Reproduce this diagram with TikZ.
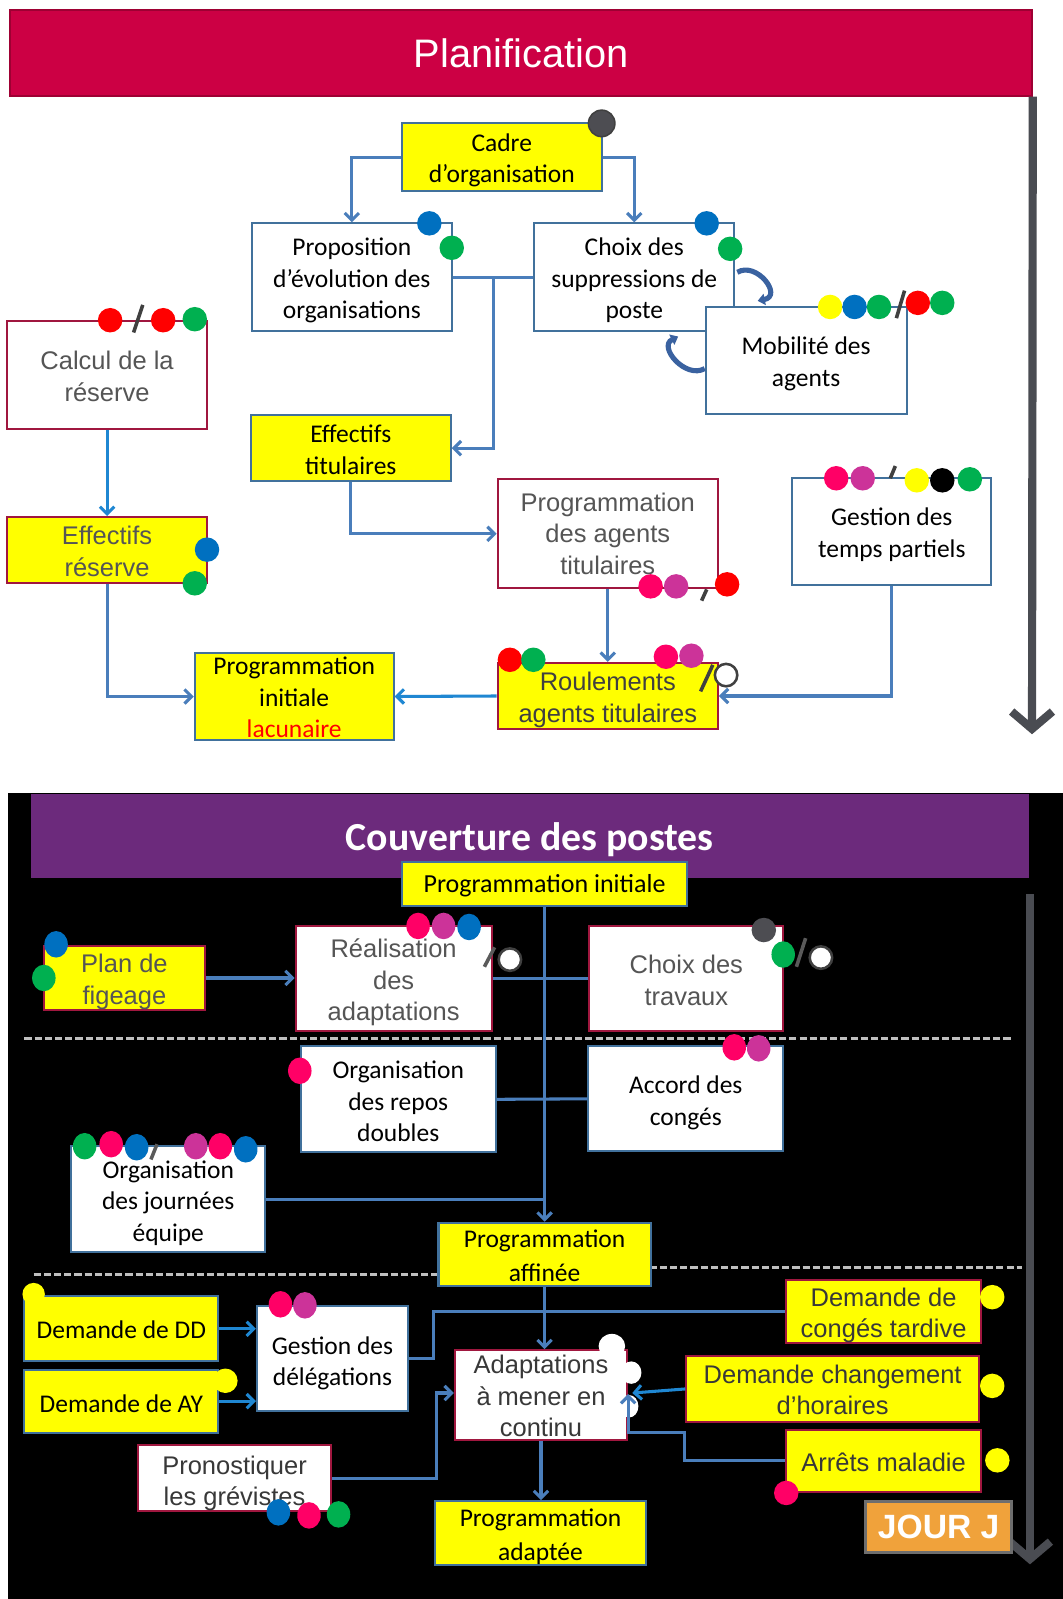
\documentclass[tikz,border=0pt]{standalone}
\usepackage{fontspec}
\setmainfont{Carlito}
\newfontfamily\arialf{Liberation Sans}
\usetikzlibrary{arrows.meta,calc}

\definecolor{hlyellow}{HTML}{FFFF00}
\definecolor{boxblue}{HTML}{41719C}
\definecolor{boxred}{HTML}{A0173F}
\definecolor{linkblue}{HTML}{4A7EBB}
\definecolor{brightblue}{HTML}{1F87D2}
\definecolor{curlblue}{HTML}{3A62A0}
\definecolor{greytxt}{HTML}{555555}
\definecolor{darktxt}{HTML}{383838}
\definecolor{bannerred}{HTML}{CC0044}
\definecolor{bannerredline}{HTML}{9E0033}
\definecolor{bannerpurple}{HTML}{6C2A7C}
\definecolor{timegrey}{HTML}{4A4C52}
\definecolor{dotred}{HTML}{FF0000}
\definecolor{dotgreen}{HTML}{00B050}
\definecolor{dotblue}{HTML}{0070C0}
\definecolor{dotyellow}{HTML}{FFFF00}
\definecolor{dotpink}{HTML}{FF0066}
\definecolor{dotmagenta}{HTML}{CC3399}
\definecolor{dotgrey}{HTML}{4D4D52}
\definecolor{jourorange}{HTML}{F0A23B}
\definecolor{jourgrey}{HTML}{6E6E6E}
\definecolor{dashgrey}{HTML}{BFBFBF}
\definecolor{slashgrey}{HTML}{404040}
\definecolor{slashdark}{HTML}{5A5A5A}

% round marker, oval marker, marker ring, slash between markers
\newcommand\rdot[4][12]{\fill[#2] (#3,#4) circle[radius=#1pt];}
\newcommand\ovdot[3]{\fill[#1] (#2,#3) ellipse[x radius=11.5pt,y radius=13pt];}
\newcommand\ringdot[3]{\filldraw[fill=white,draw=#1,line width=2.5pt] (#2,#3) circle[radius=11pt];}
\newcommand\slashat[5]{\draw[#1,line width=3.5pt] (#2,#3) -- (#4,#5);}

\begin{document}
\begin{tikzpicture}[x=1pt,y=-1pt,
  % invisible strut beside the text block: its height sets where the lines sit
  topstrut/.style={execute at begin node={\rule{0pt}{#1pt}}},
  nodebox/.style={draw, line width=2pt, inner sep=0pt, align=center,
    font=\fontsize{25}{31}\selectfont},
  yelbox/.style={nodebox, fill=hlyellow},
  whitebox/.style={nodebox, fill=white},
  bb/.style={draw=boxblue},
  rb/.style={draw=boxred},
  grey text/.style={font=\arialf\fontsize{25}{31}\selectfont, text=greytxt},
  wide lines/.style={font=\fontsize{25}{33}\selectfont},
  link/.style={draw=linkblue, line width=3pt},
  brightlink/.style={draw=brightblue, line width=3pt},
  arrowhd/.style={-{Straight Barb[length=7pt,width=14pt]}},
  curlarrow/.style={draw=curlblue, line width=5pt, -{Triangle[length=7pt,width=11pt]}},
  timeline/.style={draw=timegrey, line width=8pt, -{Straight Barb[length=17pt,width=40pt]}},
  dashsep/.style={draw=dashgrey, line width=3pt, dash pattern=on 7pt off 3pt},
]
\useasboundingbox (0,0) rectangle (1042,1568);
\fill[white] (0,0) rectangle (1042,1568);

% ---------------- Planification ----------------
\node[fill=bannerred, draw=bannerredline, line width=1.5pt, minimum width=1002pt,
  minimum height=84pt, inner sep=0pt, text=white,
  font=\arialf\fontsize{39}{44}\selectfont] (planban) at (511,52) {Planification};
\coordinate (planend) at (1012,720);
\draw[timeline] (planban.south east) -- (planend);

\node[yelbox,bb,topstrut=54.5,minimum width=196pt,minimum height=66pt] (cadre) at (492,154) {Cadre\\d’organisation};
\node[whitebox,bb,topstrut=85.5,minimum width=196pt,minimum height=106pt] (prop) at (345,272) {Proposition\\d’évolution des\\organisations};
\node[whitebox,bb,topstrut=85.5,minimum width=196pt,minimum height=106pt] (choix) at (622,272) {Choix des\\suppressions de\\poste};
\node[whitebox,bb,topstrut=54.5,minimum width=197pt,minimum height=105pt] (mob) at (790.5,353.5) {Mobilité des\\agents};
\node[whitebox,rb,grey text,topstrut=51.2,minimum width=196pt,minimum height=106pt] (calcul) at (105,368) {Calcul de la\\réserve};
\node[yelbox,rb,grey text,topstrut=51.3,minimum width=196pt,minimum height=65pt] (effres) at (105,539.5) {Effectifs\\réserve};
\node[yelbox,bb,topstrut=51.5,minimum width=196pt,minimum height=65pt] (efftit) at (344,439.5) {Effectifs\\titulaires};
\node[whitebox,rb,grey text,minimum width=216pt,minimum height=107pt] (progag) at (596,523.5) {Programmation\\des agents\\titulaires};
\node[whitebox,bb,topstrut=54.5,minimum width=195pt,minimum height=105pt] (gtp) at (874.5,521.5) {Gestion des\\temps partiels};
\node[yelbox,rb,grey text,text=slashgrey,topstrut=56.2,minimum width=216pt,minimum height=65pt] (roul) at (596,682.5) {Roulements\\agents titulaires};
\node[yelbox,bb,topstrut=81.5,minimum width=195pt,minimum height=86pt] (proginit) at (288.5,683) {Programmation\\initiale\\\textcolor{red}{lacunaire}};

\draw[link,arrowhd] (cadre.west) -| (prop.north);
\draw[link,arrowhd] (cadre.east) -| (choix.north);
\draw[link] (prop.east) -- (choix.west);
\coordinate (pj) at ($(prop.east)!0.5!(choix.west)$);
\draw[link,arrowhd] (pj) |- (efftit.east);
\draw[brightlink,arrowhd] (calcul.south) -- (effres.north);
\draw[link,arrowhd] (effres.south) |- (proginit.west);
\draw[link,arrowhd] (efftit.south) |- (progag.west);
\draw[link,arrowhd] (progag.south) -- (roul.north);
\draw[link,arrowhd] (gtp.south) |- (roul.east);
\draw[brightlink,arrowhd] (roul.west) -- (proginit.east);

% exchanges between the post choice and staff mobility
\draw[curlarrow] ($(choix.east)+(2,-5)$) .. controls (742,256) and (768,290) .. ($(mob.north west)+(52,-5)$);
\draw[curlarrow] ($(mob.west)+(0,8)$) .. controls (672,372) and (645,340) .. ($(choix.south east)+(-56,4)$);

% markers
\filldraw[fill=dotgrey,draw=slashgrey,line width=1.5pt] (590,121) circle[radius=13pt];
\rdot{dotblue}{421}{219} \rdot{dotgreen}{443}{243}
\rdot{dotblue}{693}{219} \rdot{dotgreen}{716}{244}
\rdot{dotyellow}{814}{301} \rdot{dotblue}{838}{301} \rdot{dotgreen}{862}{301}
\slashat{slashgrey}{879}{312}{887}{285}
\rdot{dotred}{900}{297} \rdot{dotgreen}{924}{297}
\rdot{dotred}{108}{314} \slashat{slashgrey}{131}{326}{140}{299}
\rdot{dotred}{160}{314} \rdot{dotgreen}{191}{313}
\rdot{dotblue}{203}{539} \rdot{dotgreen}{191}{572}
\rdot{dotpink}{638}{575} \rdot{dotmagenta}{663}{575}
\slashat{slashgrey}{688}{589}{693}{578}
\rdot{dotred}{713}{573}
\rdot{dotpink}{820}{469} \rdot{dotmagenta}{846}{469}
\slashat{slashgrey}{873}{469}{878}{457}
\rdot{dotyellow}{899}{471} \rdot{black}{924}{471} \rdot{dotgreen}{951}{470}
\rdot{dotred}{500}{647} \rdot{dotgreen}{523}{647}
\rdot{dotpink}{653}{644} \rdot{dotmagenta}{678}{643}
\slashat{slashgrey}{687}{678}{699}{652}
\ringdot{slashgrey}{712}{662}

% ---------------- Couverture des postes ----------------
\fill[black] (8,778) rectangle (1042,1568);
\node[fill=bannerpurple, minimum width=979pt, minimum height=82pt, inner sep=0pt,
  text=white, text depth=0pt, font=\bfseries\fontsize{39}{44}\selectfont] (couvban) at (519.5,820) {Couverture des postes};
\coordinate (couvtop) at (1010,877);
\coordinate (couvend) at (1010,1534);
\draw[timeline] (couvtop) -- (couvend);

\draw[dashsep] (24,1018) -- (993,1018);
\draw[dashsep] (33,1250) -- (429,1250);
\draw[dashsep] (637,1243) -- (1002,1243);

\node[yelbox,bb,topstrut=21.5,minimum width=280pt,minimum height=43pt,font=\fontsize{25.5}{30}\selectfont] (proginit2) at (534,866.5) {Programmation initiale};
\node[yelbox,rb,grey text,topstrut=57.2,minimum width=158pt,minimum height=62pt] (plan) at (122,959) {Plan de\\figeage};
\node[whitebox,rb,grey text,topstrut=88.5,minimum width=192pt,minimum height=103pt] (real) at (386,959.5) {Réalisation\\des\\adaptations};
\node[whitebox,rb,grey text,topstrut=53.2,minimum width=190pt,minimum height=103pt] (travaux) at (673,959.5) {Choix des\\travaux};
\node[whitebox,bb,topstrut=83.5,minimum width=191pt,minimum height=104pt] (repos) at (390.5,1078) {Organisation\\des repos\\doubles};
\node[whitebox,bb,topstrut=56.5,minimum width=191pt,minimum height=103pt] (accord) at (672.5,1077.5) {Accord des\\congés};
\node[whitebox,bb,topstrut=86.5,minimum width=190pt,minimum height=104pt] (journees) at (165,1176) {Organisation\\des journées\\équipe};
\node[yelbox,bb,wide lines,topstrut=53.5,minimum width=208pt,minimum height=62pt] (affinee) at (534,1230) {Programmation\\affinée};
\node[yelbox,bb,topstrut=19.5,minimum width=190pt,minimum height=64pt] (dd) at (119,1303) {Demande de DD};
\node[yelbox,bb,topstrut=21.5,minimum width=190pt,minimum height=62pt] (ay) at (119,1374) {Demande de AY};
\node[whitebox,bb,topstrut=57.5,minimum width=148pt,minimum height=103pt] (deleg) at (326,1332.5) {Gestion des\\délégations};
\node[whitebox,rb,grey text,text=darktxt,topstrut=82.2,minimum width=169pt,minimum height=88pt] (adapt) at (530.5,1368) {Adaptations\\à mener en\\continu};
\node[whitebox,rb,grey text,text=darktxt,topstrut=59.2,minimum width=190pt,minimum height=63pt] (grev) at (230,1449.5) {Pronostiquer\\les grévistes};
\node[yelbox,bb,wide lines,topstrut=57.5,minimum width=207pt,minimum height=63pt] (adaptee) at (530,1503.5) {Programmation\\adaptée};
\node[yelbox,rb,grey text,text=darktxt,topstrut=57,minimum width=191pt,minimum height=62pt] (tardive) at (866.5,1286) {Demande de\\congés tardive};
\node[yelbox,rb,grey text,text=darktxt,topstrut=51.2,minimum width=287pt,minimum height=64pt] (horaires) at (816.5,1362) {Demande changement\\d’horaires};
\node[yelbox,rb,grey text,text=darktxt,topstrut=21.3,minimum width=191pt,minimum height=61pt] (maladie) at (866.5,1432.5) {Arrêts maladie};
\node[fill=jourorange, draw=jourgrey, line width=3pt, minimum width=143pt, minimum height=50pt,
  inner sep=0pt, text=white, font=\arialf\bfseries\fontsize{33}{36}\selectfont] (jour) at (920.5,1497) {JOUR J};

% bubble outline on the continuous adaptations box
\fill[white] (600,1320) ellipse[x radius=13pt,y radius=12pt];
\fill[white] (619,1346) ellipse[x radius=10pt,y radius=11pt];
\fill[white] (617,1379) ellipse[x radius=9pt,y radius=11pt];

\draw[link,arrowhd] (proginit2.south) -- (affinee.north);
\draw[link,arrowhd] (plan.east) -- (plan.east -| real.west);
\draw[link] (real.east) -- (travaux.west);
\draw[link] (repos.east) -- (accord.west);
\draw[link] (journees.east) -- (journees.east -| proginit2.south);
\draw[link,arrowhd] (affinee.south) -- (affinee.south |- adapt.north);
\draw[link] (deleg.east) -- ++(24,0) |- (tardive.west);
\draw[brightlink,arrowhd] (dd.east) -- (dd.east -| deleg.west);
\draw[brightlink,arrowhd] (ay.east) -- (ay.east -| deleg.west);
\draw[link,arrowhd] (grev.east) -- ++(102,0) |- ($(adapt.west)+(0,-2)$);
\draw[link,arrowhd] (adapt.south) -- (adapt.south |- adaptee.north);
\draw[brightlink,arrowhd] (horaires.west) -- ($(adapt.east)+(4,-2)$);
\draw[link,arrowhd] (maladie.west) -- ++(-99,0) -- ++(0,-28) -| ($(adapt.east)+(0,-1)$);

% markers
\ovdot{dotblue}{55}{926} \ovdot{dotgreen}{43}{959}
\ovdot{dotpink}{410}{908} \ovdot{dotmagenta}{435}{908} \ovdot{dotblue}{460}{909}
\slashat{slashdark}{475}{948}{485}{929}
\ringdot{slashgrey}{500}{941}
\rdot{dotgrey}{749}{912} \ovdot{dotgreen}{768}{936}
\slashat{slashdark}{781}{948}{790}{920}
\ringdot{slashgrey}{805}{939}
\ovdot{dotpink}{294}{1050}
\ovdot{dotpink}{720}{1027} \ovdot{dotmagenta}{744}{1028}
\ovdot{dotgreen}{83}{1124} \ovdot{dotpink}{109}{1122} \ovdot{dotblue}{134}{1125}
\slashat{slashdark}{148}{1137}{154}{1122}
\ovdot{dotmagenta}{192}{1124} \ovdot{dotpink}{216}{1124} \ovdot{dotblue}{241}{1127}
\ovdot{dotpink}{275}{1279} \ovdot{dotmagenta}{299}{1280}
\rdot[11]{dotyellow}{33}{1269}
\rdot{dotyellow}{221}{1354}
\ovdot{dotblue}{273}{1483} \ovdot{dotpink}{303}{1486} \ovdot{dotgreen}{332}{1485}
\rdot{dotyellow}{973}{1272}
\rdot{dotyellow}{973}{1359}
\rdot{dotyellow}{978}{1432}
\rdot{dotpink}{771}{1464}
\end{tikzpicture}
\end{document}
